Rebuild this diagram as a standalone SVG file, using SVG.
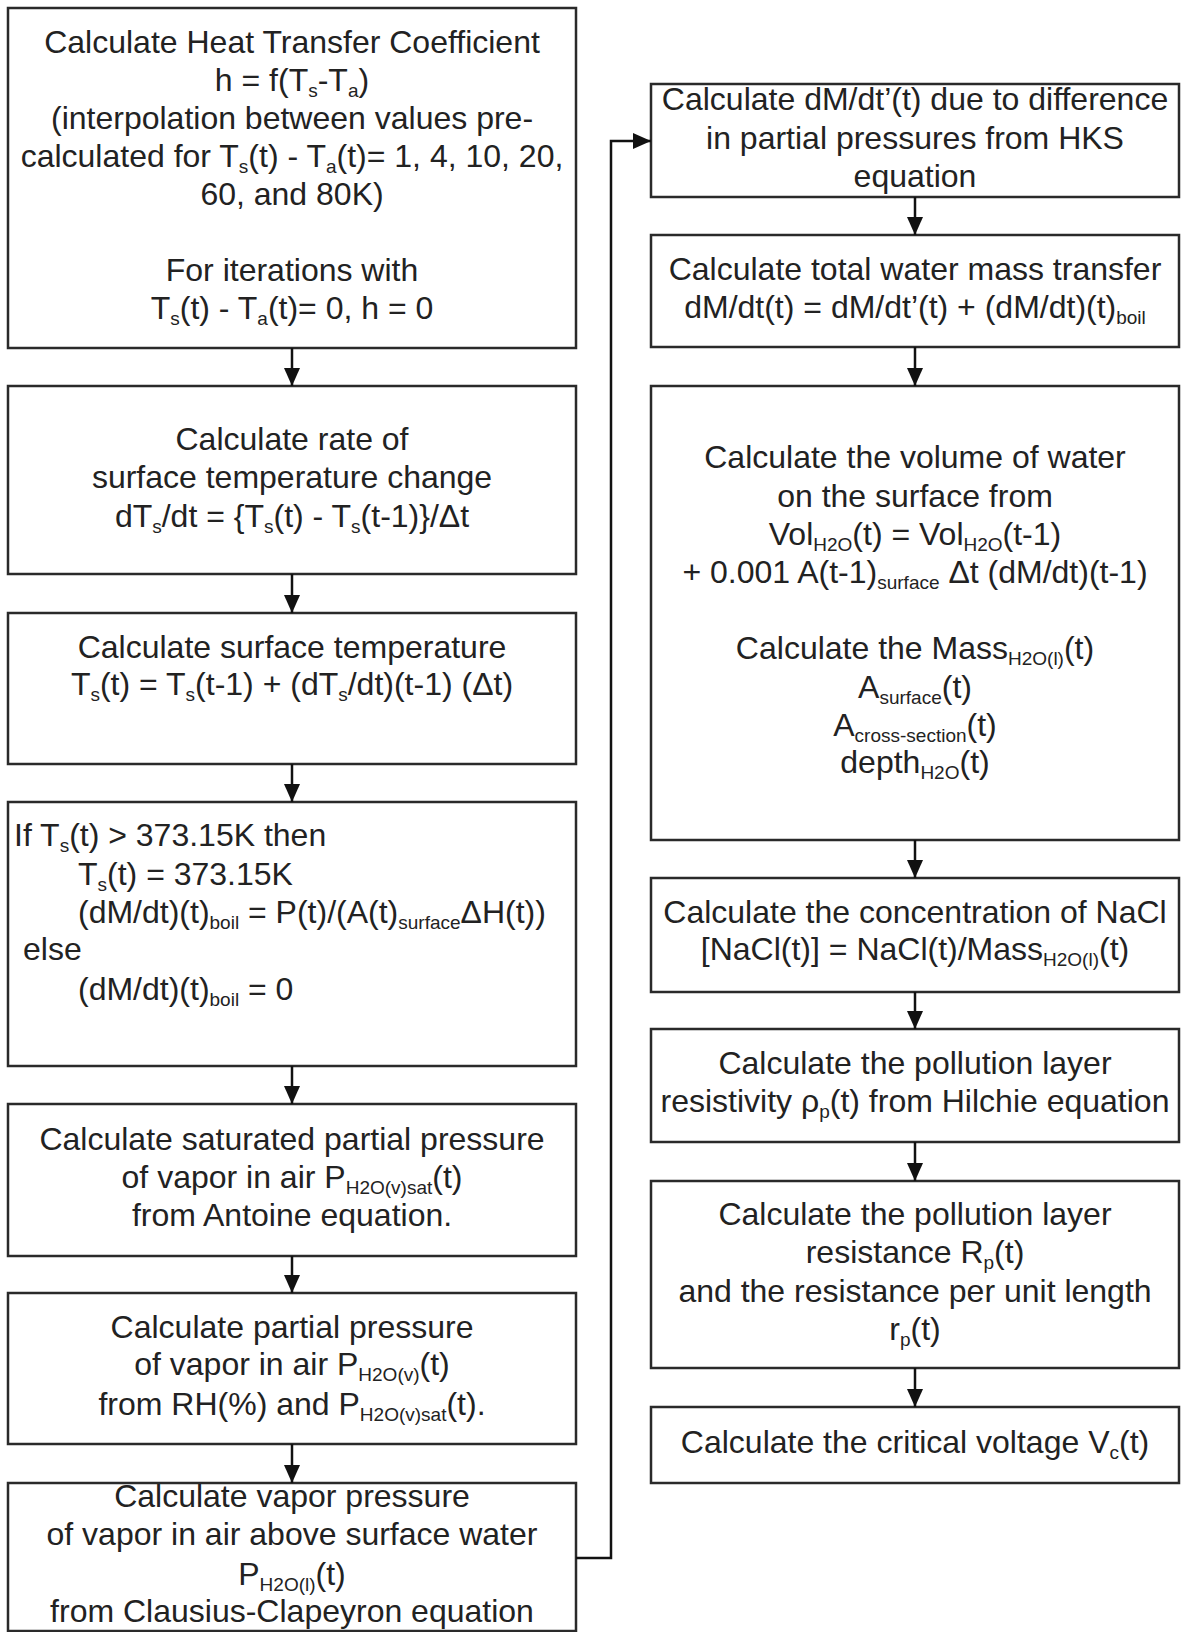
<svg xmlns="http://www.w3.org/2000/svg" width="1181" height="1632" viewBox="0 0 1181 1632">
<defs>
<style>
rect.box{fill:#fff;stroke:#2a2a2a;stroke-width:2.5}
text{font-family:"Liberation Sans",Arial,sans-serif;font-size:32px;fill:#222}
text.c{text-anchor:middle}
tspan.s{font-size:19px}
.conn{fill:none;stroke:#111;stroke-width:2.5}
</style>
<marker id="ah" markerUnits="userSpaceOnUse" markerWidth="18" markerHeight="16" refX="18" refY="8" orient="auto">
<path d="M0,0 L18,8 L0,16 z" fill="#111"/>
</marker>
</defs>
<rect width="1181" height="1632" fill="#fff"/>

<g id="n1">
<rect class="box" x="8" y="8" width="568" height="340"/>
<text class="c" x="292" y="53">Calculate Heat Transfer Coefficient</text>
<text class="c" x="292" y="91">h = f(T<tspan class="s" dy="6">s</tspan><tspan dy="-6">-T</tspan><tspan class="s" dy="6">a</tspan><tspan dy="-6">)</tspan></text>
<text class="c" x="292" y="129">(interpolation between values pre-</text>
<text class="c" x="292" y="167">calculated for T<tspan class="s" dy="6">s</tspan><tspan dy="-6">(t) - T</tspan><tspan class="s" dy="6">a</tspan><tspan dy="-6">(t)= 1, 4, 10, 20,</tspan></text>
<text class="c" x="292" y="205">60, and 80K)</text>
<text class="c" x="292" y="281">For iterations with</text>
<text class="c" x="292" y="319">T<tspan class="s" dy="6">s</tspan><tspan dy="-6">(t) - T</tspan><tspan class="s" dy="6">a</tspan><tspan dy="-6">(t)= 0, h = 0</tspan></text>
</g>

<g id="n2">
<rect class="box" x="8" y="386" width="568" height="188"/>
<text class="c" x="292" y="450">Calculate rate of</text>
<text class="c" x="292" y="488">surface temperature change</text>
<text class="c" x="292" y="527">dT<tspan class="s" dy="6">s</tspan><tspan dy="-6">/dt = {T</tspan><tspan class="s" dy="6">s</tspan><tspan dy="-6">(t) - T</tspan><tspan class="s" dy="6">s</tspan><tspan dy="-6">(t-1)}/Δt</tspan></text>
</g>

<g id="n3">
<rect class="box" x="8" y="613" width="568" height="151"/>
<text class="c" x="292" y="658">Calculate surface temperature</text>
<text class="c" x="292" y="695">T<tspan class="s" dy="6">s</tspan><tspan dy="-6">(t) = T</tspan><tspan class="s" dy="6">s</tspan><tspan dy="-6">(t-1) + (dT</tspan><tspan class="s" dy="6">s</tspan><tspan dy="-6">/dt)(t-1) (Δt)</tspan></text>
</g>

<g id="n4">
<rect class="box" x="8" y="802" width="568" height="264"/>
<text x="14" y="846">If T<tspan class="s" dy="6">s</tspan><tspan dy="-6">(t) &gt; 373.15K then</tspan></text>
<text x="78" y="885">T<tspan class="s" dy="6">s</tspan><tspan dy="-6">(t) = 373.15K</tspan></text>
<text x="78" y="923">(dM/dt)(t)<tspan class="s" dy="6">boil</tspan><tspan dy="-6"> = P(t)/(A(t)</tspan><tspan class="s" dy="6">surface</tspan><tspan dy="-6">ΔH(t))</tspan></text>
<text x="23" y="960">else</text>
<text x="78" y="1000">(dM/dt)(t)<tspan class="s" dy="6">boil</tspan><tspan dy="-6"> = 0</tspan></text>
</g>

<g id="n5">
<rect class="box" x="8" y="1104" width="568" height="152"/>
<text class="c" x="292" y="1150">Calculate saturated partial pressure</text>
<text class="c" x="292" y="1188">of vapor in air P<tspan class="s" dy="6">H2O(v)sat</tspan><tspan dy="-6">(t)</tspan></text>
<text class="c" x="292" y="1226">from Antoine equation.</text>
</g>

<g id="n6">
<rect class="box" x="8" y="1293" width="568" height="151"/>
<text class="c" x="292" y="1338">Calculate partial pressure</text>
<text class="c" x="292" y="1375">of vapor in air P<tspan class="s" dy="6">H2O(v)</tspan><tspan dy="-6">(t)</tspan></text>
<text class="c" x="292" y="1415">from RH(%) and P<tspan class="s" dy="6">H2O(v)sat</tspan><tspan dy="-6">(t).</tspan></text>
</g>

<g id="n7">
<rect class="box" x="8" y="1483" width="568" height="148"/>
<text class="c" x="292" y="1507">Calculate vapor pressure</text>
<text class="c" x="292" y="1545">of vapor in air above surface water</text>
<text class="c" x="292" y="1585">P<tspan class="s" dy="6">H2O(l)</tspan><tspan dy="-6">(t)</tspan></text>
<text class="c" x="292" y="1622">from Clausius-Clapeyron equation</text>
</g>

<g id="r1">
<rect class="box" x="651" y="84" width="528" height="113"/>
<text class="c" x="915" y="110">Calculate dM/dt’(t) due to difference</text>
<text class="c" x="915" y="149">in partial pressures from HKS</text>
<text class="c" x="915" y="187">equation</text>
</g>

<g id="r2">
<rect class="box" x="651" y="235" width="528" height="112"/>
<text class="c" x="915" y="280">Calculate total water mass transfer</text>
<text class="c" x="915" y="318">dM/dt(t) = dM/dt’(t) + (dM/dt)(t)<tspan class="s" dy="6">boil</tspan></text>
</g>

<g id="r3">
<rect class="box" x="651" y="386" width="528" height="454"/>
<text class="c" x="915" y="468">Calculate the volume of water</text>
<text class="c" x="915" y="507">on the surface from</text>
<text class="c" x="915" y="545">Vol<tspan class="s" dy="6">H2O</tspan><tspan dy="-6">(t) = Vol</tspan><tspan class="s" dy="6">H2O</tspan><tspan dy="-6">(t-1)</tspan></text>
<text class="c" x="915" y="583">+ 0.001 A(t-1)<tspan class="s" dy="6">surface</tspan><tspan dy="-6"> Δt (dM/dt)(t-1)</tspan></text>
<text class="c" x="915" y="659">Calculate the Mass<tspan class="s" dy="6">H2O(l)</tspan><tspan dy="-6">(t)</tspan></text>
<text class="c" x="915" y="698">A<tspan class="s" dy="6">surface</tspan><tspan dy="-6">(t)</tspan></text>
<text class="c" x="915" y="736">A<tspan class="s" dy="6">cross-section</tspan><tspan dy="-6">(t)</tspan></text>
<text class="c" x="915" y="773">depth<tspan class="s" dy="6">H2O</tspan><tspan dy="-6">(t)</tspan></text>
</g>

<g id="r4">
<rect class="box" x="651" y="878" width="528" height="114"/>
<text class="c" x="915" y="923">Calculate the concentration of NaCl</text>
<text class="c" x="915" y="960">[NaCl(t)] = NaCl(t)/Mass<tspan class="s" dy="6">H2O(l)</tspan><tspan dy="-6">(t)</tspan></text>
</g>

<g id="r5">
<rect class="box" x="651" y="1029" width="528" height="113"/>
<text class="c" x="915" y="1074">Calculate the pollution layer</text>
<text class="c" x="915" y="1112">resistivity ρ<tspan class="s" dy="6">p</tspan><tspan dy="-6">(t) from Hilchie equation</tspan></text>
</g>

<g id="r6">
<rect class="box" x="651" y="1181" width="528" height="187"/>
<text class="c" x="915" y="1225">Calculate the pollution layer</text>
<text class="c" x="915" y="1263">resistance R<tspan class="s" dy="6">p</tspan><tspan dy="-6">(t)</tspan></text>
<text class="c" x="915" y="1302">and the resistance per unit length</text>
<text class="c" x="915" y="1340">r<tspan class="s" dy="6">p</tspan><tspan dy="-6">(t)</tspan></text>
</g>

<g id="r7">
<rect class="box" x="651" y="1407" width="528" height="76"/>
<text class="c" x="915" y="1453">Calculate the critical voltage V<tspan class="s" dy="6">c</tspan><tspan dy="-6">(t)</tspan></text>
</g>

<g id="connectors">
<path class="conn" marker-end="url(#ah)" d="M292 348 V386"/>
<path class="conn" marker-end="url(#ah)" d="M292 574 V613"/>
<path class="conn" marker-end="url(#ah)" d="M292 764 V802"/>
<path class="conn" marker-end="url(#ah)" d="M292 1066 V1104"/>
<path class="conn" marker-end="url(#ah)" d="M292 1256 V1293"/>
<path class="conn" marker-end="url(#ah)" d="M292 1444 V1483"/>
<path class="conn" marker-end="url(#ah)" d="M576 1558 H611 V141 H651"/>
<path class="conn" marker-end="url(#ah)" d="M915 197 V235"/>
<path class="conn" marker-end="url(#ah)" d="M915 347 V386"/>
<path class="conn" marker-end="url(#ah)" d="M915 840 V878"/>
<path class="conn" marker-end="url(#ah)" d="M915 992 V1029"/>
<path class="conn" marker-end="url(#ah)" d="M915 1142 V1181"/>
<path class="conn" marker-end="url(#ah)" d="M915 1368 V1407"/>
</g>
</svg>
